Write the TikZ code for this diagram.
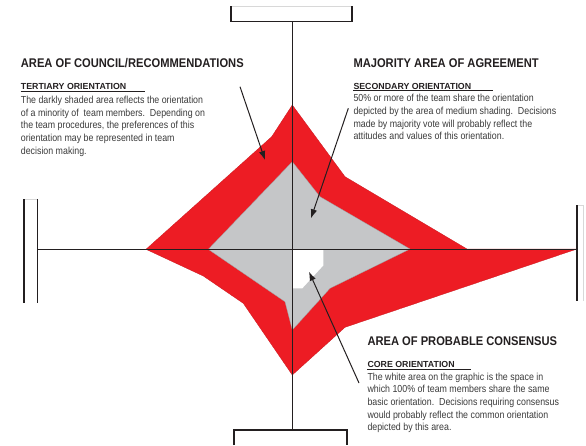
\documentclass[tikz,border=0pt]{standalone}
\usepackage{fontspec}
\setmainfont{Liberation Sans}
\newfontfamily\headfam[FakeStretch=0.885]{Liberation Sans}
\newfontfamily\bodyfam[FakeStretch=0.866]{Liberation Sans}
\usetikzlibrary{arrows.meta}
\definecolor{zonered}{HTML}{ED1C24}
\definecolor{zonegray}{HTML}{C5C6C8}
\definecolor{axisink}{HTML}{231F20}
\definecolor{bodyink}{HTML}{3A3A3A}
\definecolor{faint}{HTML}{D8D8D8}
% stack of lines whose baseline is that of the first line
\newcommand{\linestack}[1]{\vtop{\halign{##\hfil\cr#1\crcr}}}
\tikzset{
  heading/.style={inner sep=0pt, anchor=base west, text=axisink,
    font=\headfam\bfseries\fontsize{12.6}{14}\selectfont},
  subhead/.style={inner sep=0pt, anchor=base west, text=axisink,
    font=\bfseries\fontsize{8.8}{10}\selectfont},
  bodytext/.style={inner sep=0pt, anchor=base west, text=bodyink,
    font=\bodyfam\fontsize{10.2}{12.7}\selectfont},
  axisline/.style={draw=axisink, line width=1.3pt},
  barline/.style={draw=axisink, line width=1.4pt},
  faintline/.style={draw=faint, line width=0.8pt},
  pointer/.style={draw=axisink, line width=1pt, -{Latex[length=9pt,width=6.5pt]}},
  underrule/.style={draw=axisink, line width=0.9pt},
}
\begin{document}
\begin{tikzpicture}[x=1pt, y=-1pt]
\useasboundingbox (0,0) rectangle (586,445);

% outer (minority) orientation band
\fill[zonered, draw=zonered!85!black, line width=0.3pt]
  (292.3,105) -- (345,176.7) -- (467,249) -- (577,249) -- (345,327.3)
  -- (292.3,375) -- (243.3,303.3) -- (203.3,276) -- (146,249.3)
  -- (271.7,136.7) -- cycle;
% majority orientation
\fill[zonegray, draw=zonegray!80!black, line width=0.3pt]
  (292.3,161.7) -- (320,196.7) -- (410,249) -- (330,288.3)
  -- (292.3,330) -- (285,301.7) -- (208.3,249.3) -- cycle;
% core orientation
\fill[white]
  (292.3,249.3) -- (323.3,249.3) -- (323.3,265.5) -- (302.3,288.3)
  -- (292.3,288.3) -- cycle;

% end markers of the axes
\coordinate (topL) at (231,6);
\coordinate (topR) at (352,6);
\draw[faintline] (topL) -- (topR);
\draw[barline] (topL) -- (231,21.3) -- (352,21.3) -- (topR);

\coordinate (botL) at (234,445);
\coordinate (botR) at (347,445);
\draw[barline] (botL) -- (234,430) -- (347,430) -- (botR);

\draw[faintline] (24,199) -- (37.7,199);
\draw[barline] (24,199) -- (24,303);
\draw[barline] (37.7,199) -- (37.7,303);

\draw[faintline] (577,205) -- (583,205) -- (583,301);
\draw[barline] (577,205) -- (577,301);

% axes
\coordinate (axN) at (292.3,21.3);
\coordinate (axS) at (292.3,430);
\coordinate (axW) at (37.7,249.3);
\coordinate (axE) at (577,249.3);
\draw[axisline] (axN) -- (axS);
\draw[axisline] (axW) -- (axE);

% left text block
\node[heading] (hL) at (20.7,67.3) {AREA OF COUNCIL/RECOMMENDATIONS};
\node[subhead] (sL) at (20.7,89) {TERTIARY ORIENTATION};
\draw[underrule] (20.7,91) -- (145,91);
\node[bodytext] (bL) at (20.7,103.3) {\linestack{The darkly shaded area reflects the orientation\cr
of a minority of \ team members.\ \ Depending on\cr
the team procedures, the preferences of this\cr
orientation may be represented in team\cr
decision making.}};

% right text block
\node[heading] (hR) at (353.3,67.3) {MAJORITY AREA OF AGREEMENT};
\node[subhead] (sR) at (353.3,89) {SECONDARY ORIENTATION};
\draw[underrule] (353.3,90.7) -- (493.3,90.7);
\node[bodytext] (bR) at (353.3,101.7) {\linestack{50\% or more of the team share the orientation\cr
depicted by the area of medium shading.\ \ Decisions\cr
made by majority vote will probably reflect the\cr
attitudes and values of this orientation.}};

% lower right text block
\node[heading] (hC) at (367.3,345) {AREA OF PROBABLE CONSENSUS};
\node[subhead] (sC) at (367.3,367.7) {CORE ORIENTATION};
\draw[underrule] (367.3,369.3) -- (470.7,369.3);
\node[bodytext] (bC) at (367.3,380) {\linestack{The white area on the graphic is the space in\cr
which 100\% of team members share the same\cr
basic orientation.\ \ Decisions requiring consensus\cr
would probably reflect the common orientation\cr
depicted by this area.}};

% pointers from the texts into the zones
\coordinate (tailL) at (240,86.7);
\coordinate (headL) at (265,160);
\coordinate (tailR) at (348.3,108.3);
\coordinate (headR) at (311,218.3);
\coordinate (tailC) at (359,383);
\coordinate (headC) at (309,271.7);
\draw[pointer] (tailL) -- (headL);
\draw[pointer] (tailR) -- (headR);
\draw[pointer] (tailC) -- (headC);
\end{tikzpicture}
\end{document}
